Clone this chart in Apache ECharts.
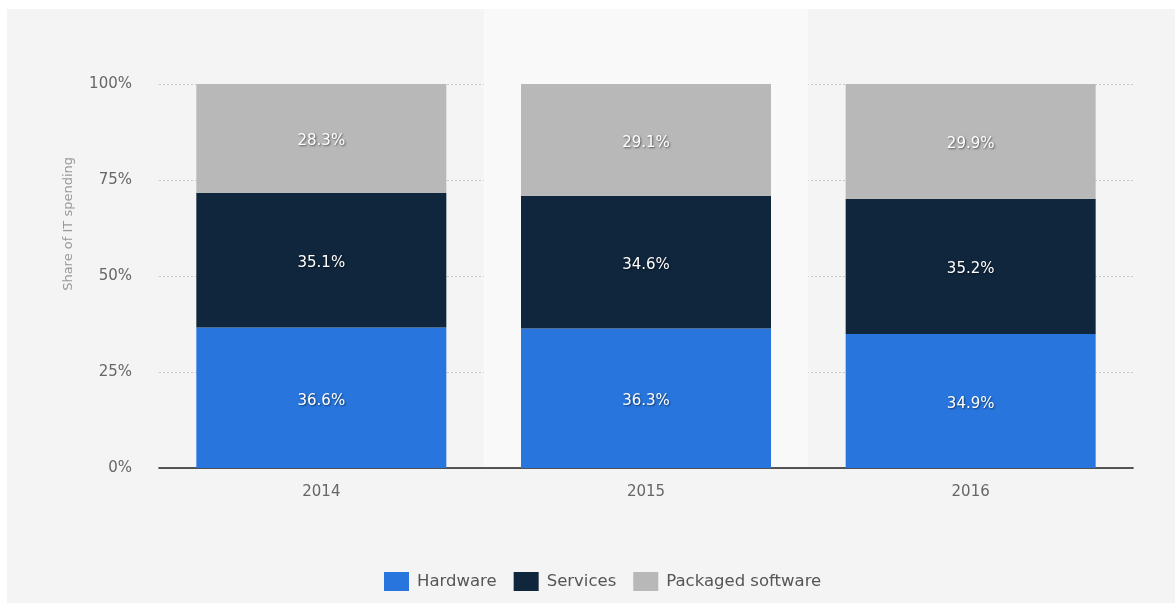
<!DOCTYPE html>
<html>
<head>
<meta charset="utf-8">
<script src="https://cdn.jsdelivr.net/npm/echarts@6/dist/echarts.min.js"></script>
<style>
  html, body { margin: 0; padding: 0; background: #ffffff; width: 1175px; height: 603px; overflow: hidden; }
  #chart { position: absolute; left: 7px; top: 9px; width: 1168px; height: 594px; }
</style>
</head>
<body>
<div id="chart"></div>
<script>
// IT spending shares by segment, per year
const years = ['2014', '2015', '2016'];
const hardware = [36.6, 36.3, 34.9];
const services = [35.1, 34.6, 35.2];
const packagedSoftware = [28.3, 29.1, 29.9];
const yTicks = [0, 25, 50, 75, 100];

const FONT = 'DejaVu Sans';

const chart = echarts.init(document.getElementById('chart'), null, { renderer: 'canvas' });

const labelStyle = {
  show: true,
  position: 'inside',
  offset: [0, 3],
  color: '#ffffff',
  fontFamily: FONT,
  fontSize: 15,
  textShadowColor: 'rgba(0,0,0,0.55)',
  textShadowBlur: 2,
  textShadowOffsetX: 1,
  textShadowOffsetY: 1,
  formatter: p => p.value.toFixed(1) + '%'
};

function barSeries(name, data, color) {
  return {
    name: name,
    type: 'bar',
    stack: 'share',
    xAxisIndex: 1,
    yAxisIndex: 1,
    barWidth: '77%',
    data: data,
    itemStyle: { color: color },
    label: labelStyle,
    emphasis: { disabled: true }
  };
}

chart.setOption({
  backgroundColor: '#f4f4f4',
  animation: false,
  textStyle: { fontFamily: FONT },
  grid: [
    // full-height band behind the columns
    { left: 152, right: 42, top: 0, bottom: 135 },
    // plot area
    { left: 152, right: 42, top: 75, bottom: 135 }
  ],
  xAxis: [
    {
      gridIndex: 0,
      type: 'category',
      data: years,
      axisLine: { show: false },
      axisTick: { show: false },
      axisLabel: { show: false },
      splitLine: { show: false },
      splitArea: { show: true, areaStyle: { color: ['rgba(0,0,0,0)', '#f9f9f9'] } }
    },
    {
      gridIndex: 1,
      type: 'category',
      data: years,
      axisLine: { show: true, lineStyle: { color: '#222222', width: 1.6 } },
      axisTick: { show: false },
      axisLabel: { color: '#666666', fontSize: 15, fontFamily: FONT, margin: 17 },
      splitLine: { show: false }
    }
  ],
  yAxis: [
    {
      gridIndex: 0,
      type: 'value',
      show: false,
      splitLine: { show: false }
    },
    {
      gridIndex: 1,
      type: 'value',
      min: yTicks[0],
      max: yTicks[yTicks.length - 1],
      interval: yTicks[1] - yTicks[0],
      axisLine: { show: false },
      axisTick: { show: false },
      axisLabel: {
        color: '#666666',
        fontSize: 15,
        fontFamily: FONT,
        margin: 27,
        padding: [0, 0, 7, 0],
        formatter: v => v + '%'
      },
      splitLine: { show: true, lineStyle: { color: '#c8c8c8', type: [2, 2], width: 1 } }
    }
  ],
  legend: {
    left: 372,
    top: 558,
    itemWidth: 25,
    itemHeight: 19,
    itemGap: 17,
    icon: 'rect',
    selectedMode: false,
    textStyle: { color: '#555555', fontSize: 16.5, fontFamily: FONT, padding: [0, 0, 0, 3] },
    data: ['Hardware', 'Services', 'Packaged software']
  },
  graphic: [
    {
      type: 'text',
      left: 55,
      top: 148,
      rotation: Math.PI / 2,
      style: {
        text: 'Share of IT spending',
        fill: '#999999',
        font: '13px "DejaVu Sans"'
      }
    }
  ],
  series: [
    barSeries('Hardware', hardware, '#2876dd'),
    barSeries('Services', services, '#10263d'),
    barSeries('Packaged software', packagedSoftware, '#b8b8b8')
  ]
});
</script>
</body>
</html>
